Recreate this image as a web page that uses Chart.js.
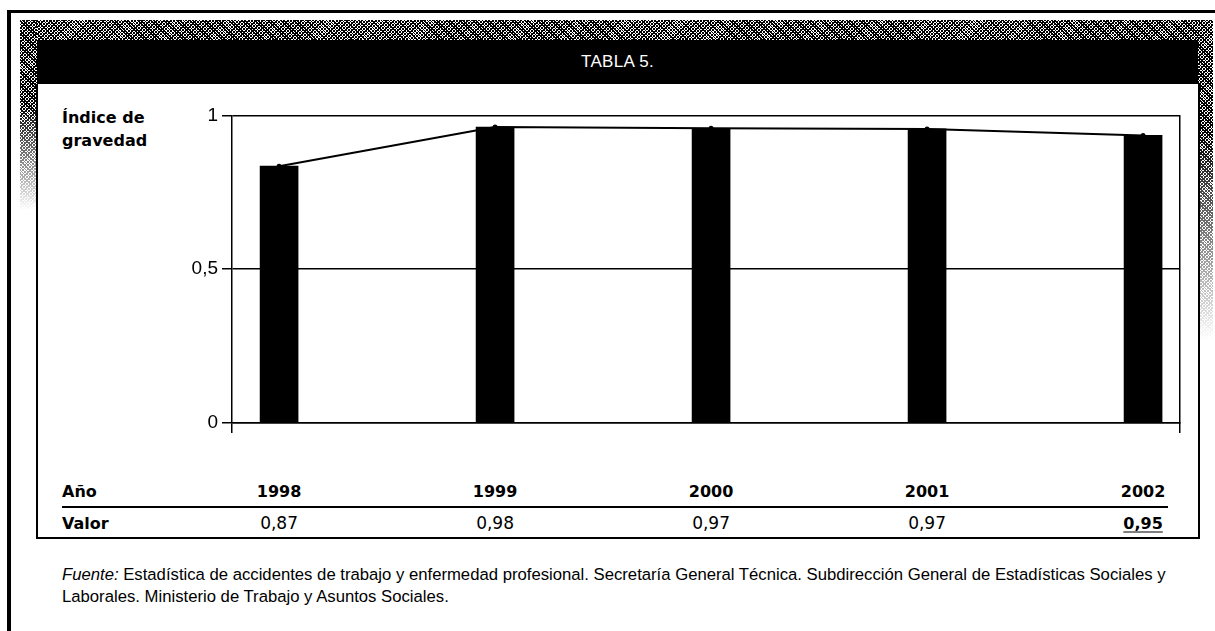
<!DOCTYPE html>
<html lang="es">
<head>
<meta charset="utf-8">
<title>Tabla 5</title>
<script src="https://cdn.jsdelivr.net/npm/chart.js@4.4.1/dist/chart.umd.min.js"></script>
<style>
  html, body { margin: 0; padding: 0; background: #fff; }
  body { width: 1215px; height: 631px; position: relative; overflow: hidden; color: #000; }
  .abs { position: absolute; }
  .negro { background: #000; }
  .trama {
    background-color: #fff;
    background-image:
      repeating-linear-gradient(45deg, #000 0 1px, transparent 1px 2.3px),
      repeating-linear-gradient(-45deg, #000 0 1px, transparent 1px 2.5px);
  }
  #cabecera {
    left: 37px; top: 40px; width: 1161px; height: 44px;
    color: #fff; font: 17px "Liberation Sans", Arial, sans-serif;
    text-align: center; line-height: 44px; letter-spacing: 0.3px;
  }
  #caja {
    left: 36px; top: 84px; width: 1160px; height: 453px;
    border-left: 2px solid #000; border-right: 2px solid #000; border-bottom: 2px solid #000;
  }
  #indice {
    left: 62px; top: 106px; font: bold 16px "DejaVu Sans", sans-serif; line-height: 23px;
  }
  #grafico { left: 150px; top: 100px; }
  .fila { font: bold 16px "DejaVu Sans", sans-serif; white-space: nowrap; }
  .valor { font: 17px "DejaVu Sans", sans-serif; white-space: nowrap; }
  #fuente {
    left: 62px; top: 564px; font: 16.7px "Liberation Sans", Arial, sans-serif;
    line-height: 22px; white-space: nowrap;
  }
</style>
</head>
<body>
  <div class="abs negro" style="left:7px; top:10px; width:1208px; height:3px;"></div>
  <div class="abs negro" style="left:7px; top:10px; width:4px; height:621px;"></div>
  <div class="abs trama" style="left:20px; top:20px; width:1193px; height:20px;"></div>
  <div class="abs trama" style="left:20px; top:20px; width:17px; height:190px;
       -webkit-mask-image: linear-gradient(to bottom, #000 45%, transparent); mask-image: linear-gradient(to bottom, #000 45%, transparent);"></div>
  <div class="abs trama" style="left:1198px; top:20px; width:15px; height:320px;
       -webkit-mask-image: linear-gradient(to bottom, #000 35%, transparent); mask-image: linear-gradient(to bottom, #000 35%, transparent);"></div>

  <div id="cabecera" class="abs negro">TABLA 5.</div>
  <div id="caja" class="abs"></div>
  <div id="indice" class="abs">Índice de<br>gravedad</div>

  <canvas id="grafico" class="abs" width="1050" height="350"></canvas>

  <div id="tabla"></div>

  <div id="fuente" class="abs"><i>Fuente:</i> Estadística de accidentes de trabajo y enfermedad profesional. Secretaría General Técnica. Subdirección General de Estadísticas Sociales y<br>Laborales. Ministerio de Trabajo y Asuntos Sociales.</div>

<script>
// datos
const anios = [1998, 1999, 2000, 2001, 2002];
const alturas = [0.835, 0.962, 0.958, 0.956, 0.935];
const valoresTabla = ["0,87", "0,98", "0,97", "0,97", "0,95"];
const ticksY = [0, 0.5, 1];
const etiquetasY = ["0", "0,5", "1"];

const puntos = anios.map((a, i) => ({ x: a, y: alturas[i] }));

const grafico = new Chart(document.getElementById("grafico"), {
  type: "bar",
  data: {
    datasets: [
      {
        type: "line",
        data: puntos,
        borderColor: "#000",
        borderWidth: 2,
        pointRadius: 2.5,
        pointBackgroundColor: "#000",
        pointBorderWidth: 0,
        tension: 0,
        order: 0
      },
      {
        type: "bar",
        data: puntos,
        backgroundColor: "#000",
        barThickness: 38,
        order: 1
      }
    ]
  },
  options: {
    responsive: false,
    animation: false,
    devicePixelRatio: 1,
    layout: { padding: { top: 15, right: 20, left: 0, bottom: 0 } },
    plugins: { legend: { display: false }, tooltip: { enabled: false } },
    scales: {
      x: {
        type: "linear",
        offset: false,
        min: 1997.782,
        max: 2002.171,
        afterBuildTicks: s => { s.ticks = [{ value: s.min }, { value: s.max }]; },
        afterFit: s => { s.height = 27; },
        ticks: { display: false },
        grid: { offset: false, drawOnChartArea: false, drawTicks: true, tickLength: 10, color: "#000", lineWidth: 1.5 },
        border: { display: true, color: "#000", width: 1.5 }
      },
      y: {
        min: 0,
        max: 1,
        afterBuildTicks: s => { s.ticks = ticksY.map(v => ({ value: v })); },
        afterFit: s => { s.width = 82; },
        ticks: {
          color: "#000",
          padding: 4,
          font: { family: "Liberation Sans", size: 19 },
          callback: (v) => etiquetasY[ticksY.indexOf(v)]
        },
        grid: { color: "#000", lineWidth: 1.5, tickLength: 10 },
        border: { display: true, color: "#000", width: 1.5 }
      },
      y2: {
        position: "right",
        min: 0,
        max: 1,
        afterFit: s => { s.width = 0; },
        ticks: { display: false },
        grid: { display: false },
        border: { display: true, color: "#000", width: 1.5 }
      }
    }
  }
});

// tabla de años y valores, alineada con las barras
const tabla = document.getElementById("tabla");
const lienzo = document.getElementById("grafico");
const offX = lienzo.offsetLeft;

function texto(t, clase, x, y, extra) {
  const d = document.createElement("div");
  d.className = "abs " + clase;
  d.textContent = t;
  d.style.left = x + "px";
  d.style.top = y + "px";
  d.style.transform = "translate(-50%, -50%)";
  if (extra) Object.assign(d.style, extra);
  tabla.appendChild(d);
  return d;
}

const filaAnio = 491, filaValor = 523;
const etqAnio = texto("Año", "fila", 62, filaAnio);
etqAnio.style.transform = "translateY(-50%)";
const etqValor = texto("Valor", "fila", 62, filaValor);
etqValor.style.transform = "translateY(-50%)";

anios.forEach((a, i) => {
  const px = offX + grafico.scales.x.getPixelForValue(a);
  const ultimo = i === anios.length - 1;
  texto(String(a), "fila", px, filaAnio);
  texto(valoresTabla[i], ultimo ? "fila" : "valor", px, filaValor,
    ultimo ? { textDecoration: "underline", textDecorationThickness: "1px", textUnderlineOffset: "3px" } : null);
});

// línea separadora
const sep = document.createElement("div");
sep.className = "abs negro";
Object.assign(sep.style, { left: "62px", top: "506px", width: "1106px", height: "2px" });
tabla.appendChild(sep);
</script>
</body>
</html>
